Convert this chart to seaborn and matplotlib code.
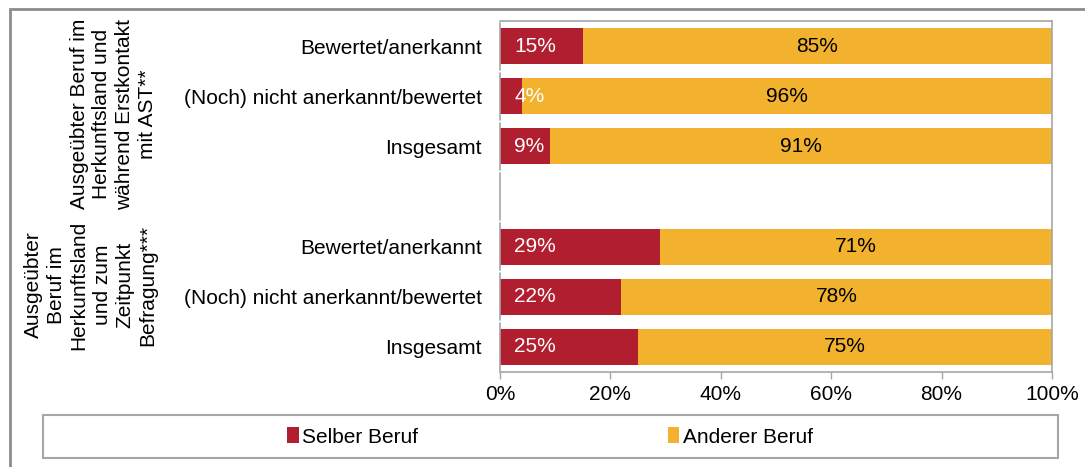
import matplotlib
matplotlib.use("Agg")
import matplotlib.pyplot as plt
import seaborn as sns
import pandas as pd
from matplotlib.patches import Rectangle

# Daten
gruppen = [
    "Ausgeübter Beruf im\nHerkunftsland und\nwährend Erstkontakt\nmit AST**",
    "Ausgeübter\nBeruf im\nHerkunftsland\nund zum\nZeitpunkt\nBefragung***",
]
kategorien = ["Bewertet/anerkannt", "(Noch) nicht anerkannt/bewertet", "Insgesamt"]
selber_g1 = [15, 4, 9]
anderer_g1 = [85, 96, 91]
selber_g2 = [29, 22, 25]
anderer_g2 = [71, 78, 75]

rot = "#B01E2F"
gelb = "#F2B22E"
grau = "#A6A6A6"

zeilen = []
for g, (sel, and_) in enumerate([(selber_g1, anderer_g1), (selber_g2, anderer_g2)]):
    for k, kat in enumerate(kategorien):
        zeilen.append({"id": f"g{g}_{k}", "kategorie": kat, "selber": sel[k], "anderer": and_[k]})
df = pd.DataFrame(zeilen)
df["gesamt"] = df["selber"] + df["anderer"]
reihenfolge = ["g0_0", "g0_1", "g0_2", "luecke", "g1_0", "g1_1", "g1_2"]

sns.set_theme(style="white")
plt.rcParams["font.family"] = ["Liberation Sans", "DejaVu Sans"]
plt.rcParams["font.size"] = 15
plt.rcParams["text.color"] = "black"
plt.rcParams["xtick.labelcolor"] = "black"
plt.rcParams["ytick.labelcolor"] = "black"

fig = plt.figure(figsize=(10.85, 4.67), dpi=100)
ax = fig.add_axes([0.4608, 0.2034, 0.5088, 0.7516])

sns.barplot(data=df, y="id", x="gesamt", order=reihenfolge, color=gelb, orient="h",
            width=0.72, saturation=1, linewidth=0, ax=ax, label="Anderer Beruf")
sns.barplot(data=df, y="id", x="selber", order=reihenfolge, color=rot, orient="h",
            width=0.72, saturation=1, linewidth=0, ax=ax, label="Selber Beruf")

# Beschriftungen
for _, r in df.iterrows():
    pos = reihenfolge.index(r["id"])
    ax.text(2.6, pos, f"{r['selber']}%", color="white", ha="left", va="center", fontsize=15)
    ax.text(r["selber"] + r["anderer"] / 2, pos, f"{r['anderer']}%", color="black",
            ha="center", va="center", fontsize=15)

ax.set_xlim(0, 100)
ax.set_ylim(6.5, -0.5)
ax.set_xticks(range(0, 101, 20))
ax.set_xticklabels([f"{v}%" for v in range(0, 101, 20)])
ax.set_yticks(range(len(reihenfolge)))
labels = []
for rid in reihenfolge:
    treffer = df.loc[df["id"] == rid, "kategorie"]
    labels.append(treffer.iloc[0] if len(treffer) else "")
ax.set_yticklabels(labels)
ax.set_xlabel("")
ax.set_ylabel("")
ax.tick_params(axis="y", length=0, pad=13, labelsize=15, labelcolor="black")
ax.tick_params(axis="x", length=5, width=1, color=grau, pad=4, labelsize=15, bottom=True,
               labelcolor="black")

for s in ["top", "right", "bottom"]:
    ax.spines[s].set_color(grau)
    ax.spines[s].set_linewidth(1.2)
ax.spines["left"].set_visible(False)
for i in range(len(reihenfolge)):
    ax.plot([0, 0], [i - 0.47, i + 0.47], color=grau, lw=1.2, clip_on=False, zorder=5)

# Gruppenbeschriftungen (gedreht)
fig.text(157 / 1085, 1 - 114 / 467, gruppen[0], rotation=90, ha="right", va="center",
         multialignment="center", fontsize=15, linespacing=1.25, color="black")
fig.text(157 / 1085, 1 - 285 / 467, gruppen[1], rotation=90, ha="right", va="center",
         multialignment="center", fontsize=15, linespacing=1.25, color="black")

# Legende
if ax.legend_:
    ax.legend_.remove()
h, l = ax.get_legend_handles_labels()
h = [h[l.index("Selber Beruf")], h[l.index("Anderer Beruf")]]
fig.legend(h, ["Selber Beruf", "Anderer Beruf"], loc="center", ncol=2,
           bbox_to_anchor=(550 / 1085, 1 - 437 / 467), frameon=False, fontsize=15,
           handlelength=0.55, handleheight=0.8, handletextpad=0.15, columnspacing=12)
fig.patches.append(Rectangle((43 / 1085, 1 - 458 / 467), 1015 / 1085, 43 / 467,
                             transform=fig.transFigure, fill=False, edgecolor=grau, lw=1.5))
# Rahmen
fig.patches.append(Rectangle((10 / 1085, -0.1), 1.2, 1.1 - 9 / 467,
                             transform=fig.transFigure, fill=False, edgecolor="#8C8C8C", lw=2))

fig.savefig("out.png", dpi=100)
